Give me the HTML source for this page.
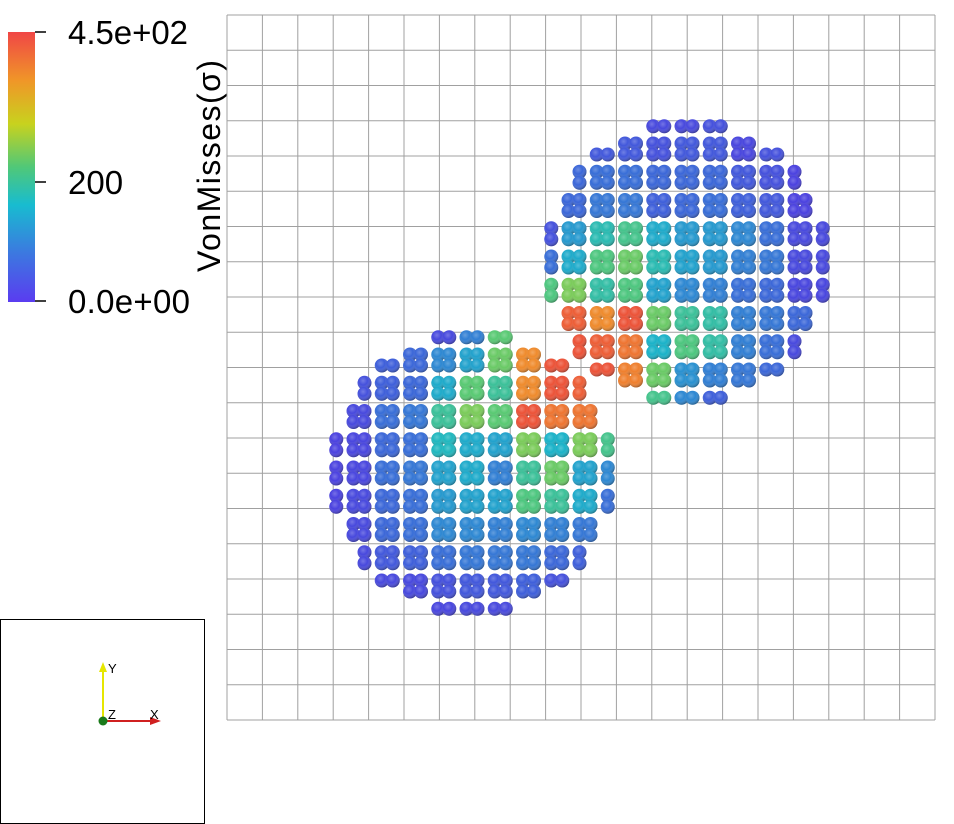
<!DOCTYPE html>
<html><head><meta charset="utf-8"><style>
body{margin:0;background:#fff;width:954px;height:824px;overflow:hidden;font-family:"Liberation Sans",sans-serif}
svg{position:absolute;left:0;top:0}
</style></head><body>
<svg id="s" width="954" height="824">
<defs>
<linearGradient id="cb" x1="0" y1="1" x2="0" y2="0">
<stop offset="0" stop-color="#5a3cf0"/><stop offset="0.18" stop-color="#3c78e0"/><stop offset="0.36" stop-color="#18bcd0"/><stop offset="0.5" stop-color="#50c878"/><stop offset="0.66" stop-color="#c8d21e"/><stop offset="0.82" stop-color="#f09628"/><stop offset="1" stop-color="#f04646"/>
</linearGradient>
<radialGradient id="sh" cx="0.4" cy="0.35" r="0.7">
<stop offset="0" stop-color="#fff" stop-opacity="0.25"/><stop offset="0.45" stop-color="#fff" stop-opacity="0"/><stop offset="1" stop-color="#000" stop-opacity="0.4"/>
</radialGradient>
</defs>
<g id="grid"></g>
<g id="parts"></g>
<g>
<rect x="8" y="32" width="27" height="270" fill="url(#cb)"/>
<line x1="35" y1="32" x2="46" y2="32" stroke="#000" stroke-width="1.5"/>
<line x1="35" y1="182" x2="46" y2="182" stroke="#000" stroke-width="1.5"/>
<line x1="35" y1="301" x2="46" y2="301" stroke="#000" stroke-width="1.5"/>
<text x="68" y="44" font-size="33" textLength="120" fill="#000">4.5e+02</text>
<text x="68" y="194" font-size="33" fill="#000">200</text>
<text x="68" y="313" font-size="33" textLength="122" fill="#000">0.0e+00</text>
<text transform="translate(220,166) rotate(-90)" text-anchor="middle" font-size="32" textLength="212" fill="#000">VonMisses(σ)</text>
</g>
<g>
<rect x="0.5" y="619.5" width="204" height="204" fill="none" stroke="#000" stroke-width="1"/>
<line x1="103" y1="721" x2="103" y2="670" stroke="#e6e600" stroke-width="2"/>
<polygon points="99,672 107,672 103,662" fill="#e6e600"/>
<line x1="103" y1="721" x2="152" y2="721" stroke="#d02020" stroke-width="2"/>
<polygon points="150,717 150,725 161,721" fill="#d02020"/>
<circle cx="103" cy="721" r="4.5" fill="#1a7a1a"/>
<text x="108" y="673" font-size="13" fill="#000">Y</text>
<text x="150" y="719" font-size="13" fill="#000">X</text>
<text x="108" y="719" font-size="13" fill="#000">Z</text>
</g>
</svg>
<script>
const lowerVals=[
[0,0,0,0,30,100,230,0,0,0,0],
[0,0,60,70,110,140,240,380,430,0,0],
[40,40,60,70,150,230,200,380,430,420,0],
[30,30,80,90,200,250,230,430,400,400,0],
[20,25,70,80,170,150,140,250,160,250,210],
[20,25,80,90,140,150,100,200,240,140,110],
[20,30,70,80,130,140,140,220,200,150,80],
[20,30,70,80,110,110,100,110,100,90,60],
[20,30,50,60,80,90,90,90,70,60,40],
[20,20,30,30,40,50,50,60,40,30,30],
[20,20,20,20,25,30,30,30,30,20,20]];
const upperVals=[
[20,20,30,30,30,30,40,30,20,20,20],
[40,50,50,50,40,50,50,25,40,30,20],
[60,70,80,80,70,70,70,50,40,20,20],
[50,70,90,90,60,70,80,60,50,20,20],
[40,130,180,210,150,130,130,110,80,30,30],
[80,150,220,240,180,140,130,100,90,30,30],
[220,250,190,220,140,110,100,80,70,25,25],
[300,420,380,430,240,200,190,100,90,70,30],
[400,430,420,400,160,220,190,100,80,30,30],
[400,430,430,390,240,120,100,90,70,40,30],
[400,430,430,400,210,110,60,60,40,30,30]];
const vMax=450;
const stops=[[0,[80,50,225]],[0.18,[55,110,215]],[0.36,[24,180,200]],[0.5,[80,200,120]],[0.66,[200,210,30]],[0.82,[240,150,40]],[1,[235,60,60]]];
function cmap(v){let t=Math.max(0,Math.min(1,v/vMax));for(let i=1;i<stops.length;i++){if(t<=stops[i][0]){const a=stops[i-1],b=stops[i];const f=(t-a[0])/(b[0]-a[0]);return 'rgb('+a[1].map((c,k)=>Math.round(c+(b[1][k]-c)*f)).join(',')+')';}}return 'rgb(235,60,60)';}
const NS='http://www.w3.org/2000/svg';
const g=document.getElementById('grid');
for(let k=0;k<=20;k++){
 const x=227+k*35.4, y=15+k*35.25;
 let l=document.createElementNS(NS,'line');
 
 
 l.setAttribute('x1',x);l.setAttribute('x2',x);l.setAttribute('y1',15);l.setAttribute('y2',720);l.setAttribute('stroke','#a0a0a0');l.setAttribute('stroke-width','1');g.appendChild(l);
 l=document.createElementNS(NS,'line');
 
 
 l.setAttribute('x1',227);l.setAttribute('x2',935);l.setAttribute('y1',y);l.setAttribute('y2',y);l.setAttribute('stroke','#a0a0a0');l.setAttribute('stroke-width','1');g.appendChild(l);
}
const P=document.getElementById('parts');
function disc(vals,cx,cy,name){
 const pitch=28.25,R=141;
 for(let r=0;r<11;r++)for(let c=0;c<11;c++){
  const gx=cx+(c-5)*pitch, gy=cy+(r-5)*pitch;
  for(const dy of [-5.5,5.5])for(const dx of [-5.5,5.5]){
   const x=gx+dx,y=gy+dy;
   if(Math.hypot(x-cx,y-cy)>R)continue;
   const e=document.createElementNS(NS,'circle');
   
   
   e.setAttribute('cx',x);e.setAttribute('cy',y);e.setAttribute('r',7);e.setAttribute('fill',cmap(vals[r][c]));P.appendChild(e);
   const h=document.createElementNS(NS,'circle');
   
   
   h.setAttribute('cx',x);h.setAttribute('cy',y);h.setAttribute('r',7);h.setAttribute('fill','url(#sh)');P.appendChild(h);
  }
 }
}
disc(lowerVals,472,473,'lower-disc');
disc(upperVals,687,262,'upper-disc');
</script>
</body></html>
